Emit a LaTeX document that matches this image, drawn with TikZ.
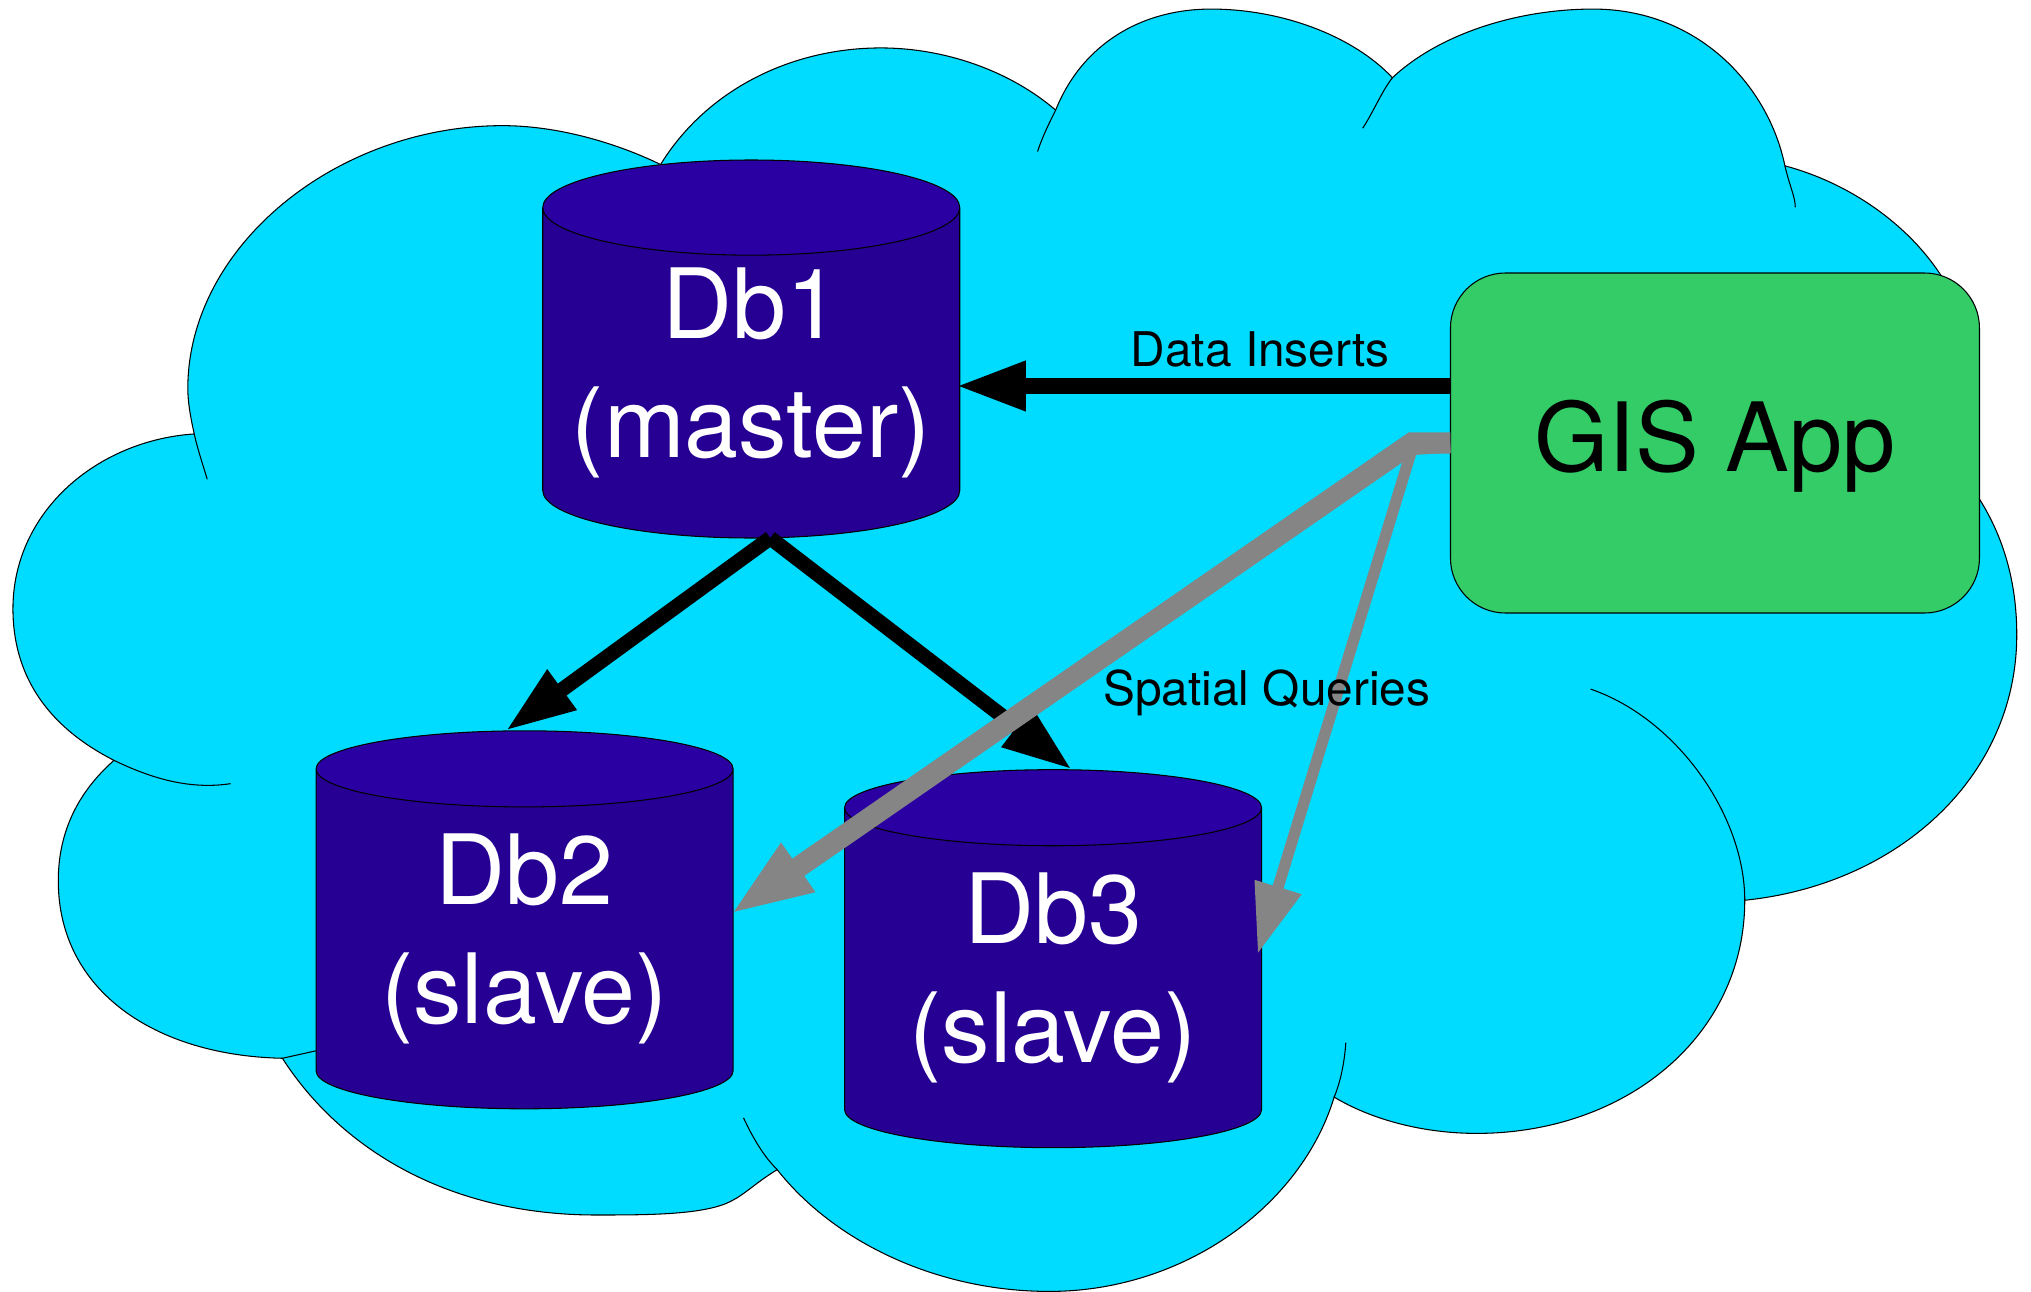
\documentclass[tikz,border=0pt]{standalone}
\usepackage{xcolor}
\usepackage{fontspec}
\setmainfont{TeX Gyre Heros}
\usetikzlibrary{shapes.geometric, arrows.meta, positioning}
\definecolor{cloudblue}{HTML}{00DCFF}
\definecolor{dbbody}{HTML}{260093}
\definecolor{dbtop}{HTML}{2B00A3}
\definecolor{appgreen}{HTML}{33CC66}
\definecolor{querygray}{HTML}{858585}
\tikzset{
  dbnode/.style={shape=cylinder, shape border rotate=90, aspect=0.265, draw=black, line width=0.3pt,
    cylinder uses custom fill, cylinder body fill=dbbody, cylinder end fill=dbtop,
    minimum width=4.17cm, minimum height=3.78cm, inner sep=0pt, outer sep=0pt,
    text=white, align=center, font=\fontsize{27.6}{34}\selectfont},
  appnode/.style={draw=black, line width=0.3pt, fill=appgreen, rounded corners=0.55cm,
    minimum width=5.29cm, minimum height=3.4cm, inner sep=0pt, outer sep=0pt,
    text height=0.77cm, text depth=0.2cm, font=\fontsize{27.2}{34}\selectfont},
  flowlabel/.style={font=\fontsize{13.6}{16}\selectfont, inner sep=0pt},
  writearrow/.style={draw=black, -{Triangle[length=0.7cm,width=0.46cm]}},
  queryarrow/.style={draw=querygray, -{Triangle[length=0.7cm,width=0.46cm]}},
  mainquery/.style={draw=querygray, -{Triangle[length=0.84cm,width=0.53cm]}},
}

\begin{document}
\begin{tikzpicture}[x=0.12953mm, y=-0.12953mm]
  \useasboundingbox (0,0) rectangle (1568,997);

  % Cloud outline
  \draw[fill=cloudblue, line width=0.3pt]
    (510,127) .. controls (545,70) and (610,37) .. (680,37)
    .. controls (730,37) and (780,55) .. (815,85)
    .. controls (835,35) and (880,7) .. (935,7)
    .. controls (990,7) and (1045,28) .. (1075,60)
    .. controls (1110,27) and (1170,7) .. (1230,7)
    .. controls (1310,7) and (1365,65) .. (1378,128)
    .. controls (1430,142) and (1475,175) .. (1500,215)
    -- (1528,385)
    .. controls (1547,415) and (1557,450) .. (1557,490)
    .. controls (1557,600) and (1465,683) .. (1347,695)
    .. controls (1347,800) and (1255,875) .. (1140,875)
    .. controls (1100,875) and (1060,865) .. (1030,847)
    .. controls (1005,930) and (915,997) .. (810,997)
    .. controls (725,997) and (645,960) .. (600,903)
    .. controls (585,912) and (575,922) .. (565,927)
    .. controls (545,938) and (500,938) .. (460,938)
    .. controls (350,938) and (265,890) .. (218,817)
    .. controls (120,815) and (45,765) .. (45,680)
    .. controls (45,640) and (62,610) .. (88,587)
    .. controls (35,560) and (10,520) .. (10,470)
    .. controls (10,395) and (75,340) .. (150,335)
    .. controls (147,322) and (145,310) .. (145,300)
    .. controls (145,190) and (260,97) .. (388,97)
    .. controls (430,97) and (475,110) .. (510,127) -- cycle;

  % Lobe ends inside the cloud
  \draw[line width=0.3pt]
    (801,117) .. controls (805,105) and (810,95) .. (815,85)
    (1052,99) .. controls (1060,87) and (1067,70) .. (1075,60)
    (1378,128) .. controls (1382,145) and (1386,152) .. (1386,160)
    (1228,532) .. controls (1295,555) and (1347,630) .. (1347,695)
    (1039,805) .. controls (1038,820) and (1035,835) .. (1030,847)
    (574,863) .. controls (582,880) and (590,893) .. (600,903)
    (88,587) .. controls (115,600) and (145,610) .. (178,605)
    (150,335) .. controls (152,345) and (157,360) .. (160,370)
    (218,817) -- (245,811);

  % Databases
  \node[dbnode] (Db1) at (580,288) {Db1\\(master)};
  \node[dbnode] (Db2) at (405,725) {Db2\\(slave)};
  \node[dbnode] (Db3) at (813,755) {Db3\\(slave)};

  % Application
  \node[appnode] (GIS) at (1324,342) {GIS App};

  % Inserts and replication
  \draw[writearrow, line width=4.4pt] ([yshift=0.57cm]GIS.west) -- ([xshift=-0.04cm,yshift=0.57cm]GIS.west -| Db1.east);
  \draw[writearrow, line width=4.2pt] ([xshift=0.19cm]Db1.south) -- ([xshift=-0.19cm]Db2.north);
  \draw[writearrow, line width=4.2pt] ([xshift=0.19cm]Db1.south) -- ([xshift=0.19cm]Db3.north);

  % Queries
  \coordinate (bendA) at (1090,342);
  \coordinate (bendB) at (1090,347);
  \draw[mainquery, line width=6pt] (GIS.west) -- (bendA) -- ([xshift=-0.04cm,yshift=0.24cm]Db2.east);
  \draw[queryarrow, line width=3.2pt] ([yshift=-0.04cm]GIS.west) -- (bendB) -- ([xshift=-0.04cm,yshift=0.24cm]Db3.east);

  % Labels
  \node[flowlabel] (inserts) at (973,270) {Data Inserts};
  \node[flowlabel] (queries) at (978,535) {Spatial Queries};
\end{tikzpicture}
\end{document}
